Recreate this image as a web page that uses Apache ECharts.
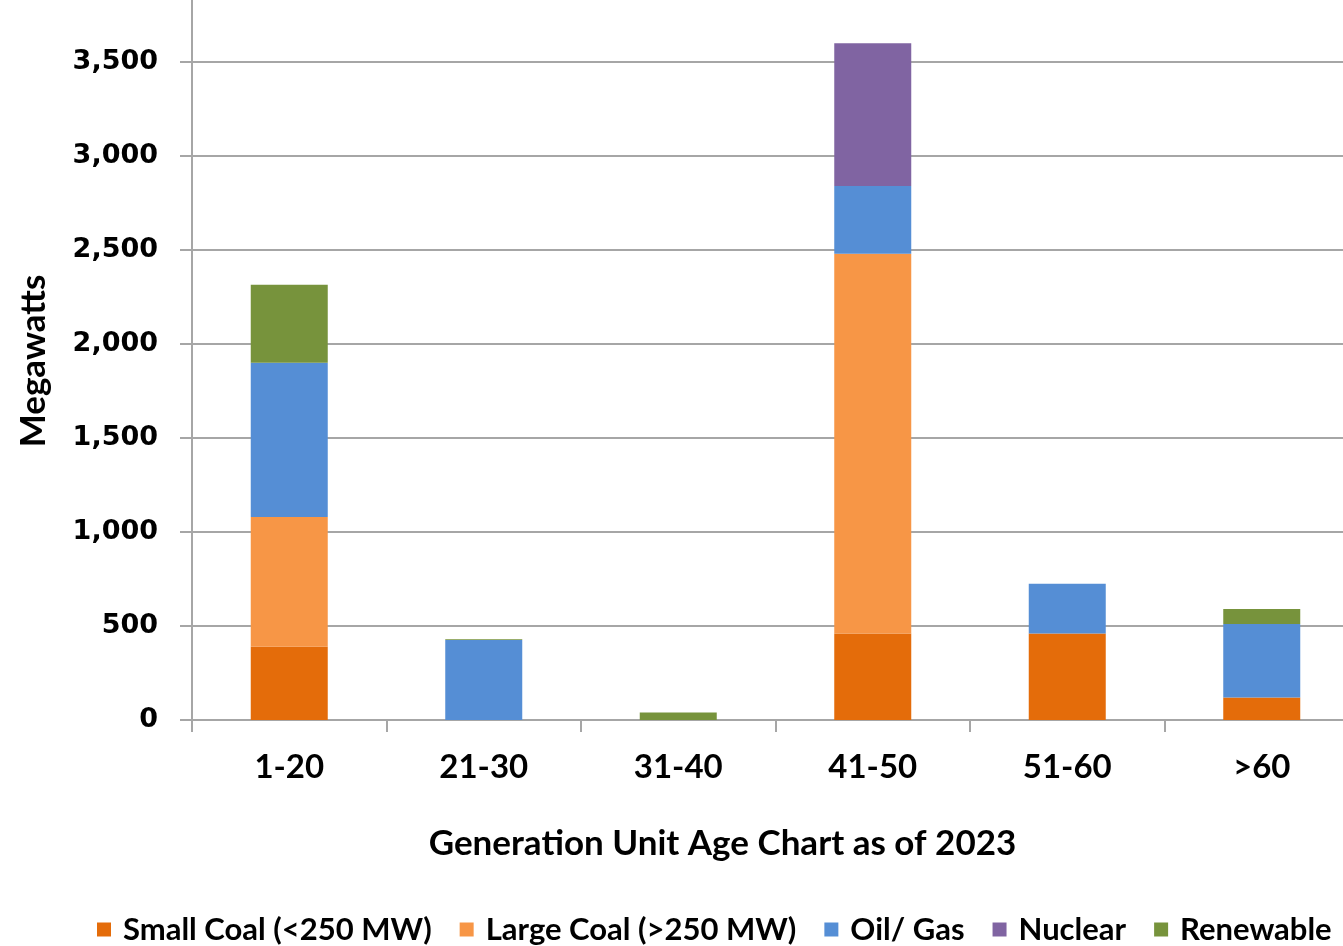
<!DOCTYPE html>
<html>
<head>
<meta charset="utf-8">
<script src="https://cdn.jsdelivr.net/npm/echarts@6/dist/echarts.min.js"></script>
<style>
  html, body { margin: 0; padding: 0; background: #fff; }
  #chart { width: 1343px; height: 946px; }
</style>
</head>
<body>
<div id="chart"></div>
<script>
const ageGroups = ["1-20", "21-30", "31-40", "41-50", "51-60", ">60"];
const seriesNames = ["Small Coal (<250 MW)", "Large Coal (>250 MW)", "Oil/ Gas", "Nuclear", "Renewable"];
const smallCoal = [390, 0, 0, 460, 460, 120];
const largeCoal = [690, 0, 0, 2020, 0, 0];
const oilGas = [820, 425, 0, 360, 265, 390];
const nuclear = [0, 0, 0, 760, 0, 0];
const renewable = [415, 5, 40, 0, 0, 80];
const colors = ["#E46C0A", "#F79646", "#558ED5", "#8064A2", "#77933C"];

const values = [smallCoal, largeCoal, oilGas, nuclear, renewable];
const calibriLike = "Lato, 'Open Sans', sans-serif";

const series = seriesNames.map((name, i) => ({
    type: "bar",
    name: name,
    stack: "total",
    data: values[i],
    barWidth: 77,
    itemStyle: { color: colors[i] }
}));

const option = {
    animation: false,
    color: colors,
    grid: { left: 192, right: -16, top: -32, bottom: 226, outerBoundsMode: "none", containLabel: false },
    legend: {
        data: seriesNames,
        left: 92,
        top: 909,
        width: 1600,
        icon: "rect",
        itemWidth: 14,
        itemHeight: 14,
        itemGap: 28,
        textStyle: {
            fontFamily: calibriLike,
            fontWeight: "bold",
            fontSize: 31,
            color: "#000",
            padding: [0, 0, 0, 7]
        }
    },
    xAxis: {
        type: "category",
        data: ageGroups,
        name: "Generation Unit Age Chart as of 2023",
        nameLocation: "middle",
        nameGap: 106,
        nameTextStyle: {
            fontFamily: calibriLike,
            fontWeight: "bold",
            fontSize: 35,
            color: "#000",
            padding: [0, 106, 0, 0]
        },
        axisLine: { lineStyle: { color: "#a6a6a6", width: 2 } },
        axisTick: { show: true, length: 12, lineStyle: { color: "#a6a6a6", width: 2 } },
        axisLabel: {
            margin: 31,
            fontFamily: calibriLike,
            fontWeight: "bold",
            fontSize: 33,
            color: "#000"
        }
    },
    yAxis: {
        type: "value",
        min: 0,
        max: 4000,
        interval: 500,
        name: "Megawatts",
        nameLocation: "middle",
        nameGap: 141,
        nameTextStyle: {
            fontFamily: calibriLike,
            fontWeight: "bold",
            fontSize: 35,
            color: "#000",
            padding: [0, 34, 0, 0]
        },
        axisLine: { show: true, lineStyle: { color: "#a6a6a6", width: 2 } },
        axisTick: { show: true, length: 12, lineStyle: { color: "#a6a6a6", width: 2 } },
        splitLine: { lineStyle: { color: "#a6a6a6", width: 2 } },
        axisLabel: {
            margin: 34,
            fontFamily: "'DejaVu Sans', Verdana, sans-serif",
            fontWeight: "bold",
            fontSize: 27,
            color: "#000",
            formatter: (v) => v.toLocaleString("en-US")
        }
    },
    series
};

const chart = echarts.init(document.getElementById("chart"));
chart.setOption(option);
window.addEventListener("resize", () => chart.resize());
</script>
</body>
</html>
